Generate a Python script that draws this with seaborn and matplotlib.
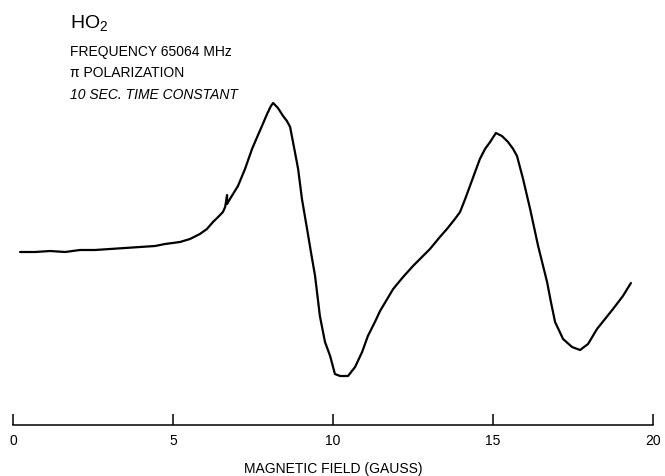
import matplotlib
matplotlib.use("Agg")
import matplotlib.pyplot as plt
import seaborn as sns
import pandas as pd

# Magnetic field (gauss) and signal (arbitrary units)
field = [0.22, 0.69, 1.16, 1.63, 2.09, 2.56, 3.03, 3.50, 3.97, 4.44,
         4.75, 5.22, 5.53, 5.84, 6.06, 6.25, 6.41, 6.56, 6.63, 6.69,
         6.69, 6.78, 7.03, 7.25, 7.47, 7.63, 7.78, 7.94, 8.06, 8.13,
         8.28, 8.44, 8.56, 8.66, 8.81, 8.91, 9.03, 9.19, 9.31, 9.44,
         9.59, 9.75, 9.91, 10.06, 10.22, 10.47, 10.69, 10.91, 11.09, 11.31,
         11.47, 11.88, 12.19, 12.50, 12.78, 13.03, 13.34, 13.56, 13.81, 13.97,
         14.13, 14.28, 14.44, 14.59, 14.75, 14.91, 15.09, 15.28, 15.47, 15.63,
         15.75, 15.94, 16.16, 16.41, 16.69, 16.81, 16.94, 17.19, 17.47, 17.72,
         17.97, 18.25, 18.50, 18.75, 19.06, 19.31]
signal = [17.3, 17.3, 17.4, 17.3, 17.5, 17.5, 17.6, 17.7, 17.8, 17.9,
          18.1, 18.3, 18.6, 19.1, 19.6, 20.3, 20.8, 21.3, 21.8, 23.0,
          22.1, 22.6, 23.9, 25.6, 27.6, 28.8, 29.9, 31.1, 31.9, 32.2,
          31.7, 30.9, 30.4, 29.8, 27.3, 25.6, 22.6, 19.6, 17.3, 14.9,
          10.9, 8.3, 6.9, 5.1, 4.9, 4.9, 5.8, 7.3, 8.9, 10.3,
          11.4, 13.6, 14.8, 15.9, 16.8, 17.6, 18.8, 19.6, 20.6, 21.3,
          22.6, 23.9, 25.3, 26.6, 27.6, 28.3, 29.2, 28.9, 28.3, 27.6,
          26.9, 24.6, 21.6, 17.9, 14.3, 12.3, 10.3, 8.6, 7.8, 7.5,
          8.1, 9.6, 10.6, 11.6, 12.9, 14.2]

xticks = [0, 5, 10, 15, 20]
xtick_labels = ["0", "5", "10", "15", "20"]
xlabel = "MAGNETIC FIELD (GAUSS)"
title_lines = ["FREQUENCY 65064 MHz", "π POLARIZATION", "10 SEC. TIME CONSTANT"]

sns.set_style("white")
FONT = ["Liberation Sans Narrow", "Liberation Sans", "DejaVu Sans"]
plt.rcParams["font.family"] = FONT

W, H = 665, 477
fig = plt.figure(figsize=(W / 100, H / 100), dpi=100)
ax = fig.add_axes([13 / W, (H - 426) / H, 640 / W, 426 / H])

df = pd.DataFrame({"field": field, "signal": signal})
sns.lineplot(data=df, x="field", y="signal", sort=False, estimator=None,
             color="black", linewidth=1.6, ax=ax)

ax.set_xlim(0, 20)
ax.set_ylim(0, 42.6)
ax.set_yticks([])
ax.set_ylabel("")
for s in ["left", "right", "top"]:
    ax.spines[s].set_visible(False)
ax.spines["bottom"].set_color("black")
ax.spines["bottom"].set_linewidth(1.1)
ax.set_xticks(xticks)
ax.set_xticklabels(xtick_labels)
ax.tick_params(axis="x", bottom=True, direction="in", length=8, width=1.1,
               color="black", pad=6, labelsize=10, labelcolor="black")
ax.set_xlabel(xlabel, fontsize=10, color="black", labelpad=10)
ax.patch.set_alpha(0)

# annotation block
fig.text(70 / W, 1 - 29 / H, "HO$_\\mathregular{2}$", fontsize=14, va="baseline", ha="left",
         color="black")
ys = [56, 77, 99]
for line, yb in zip(title_lines, ys):
    style = "italic" if line.startswith("10") else "normal"
    fig.text(70 / W, 1 - yb / H, line, fontsize=10, va="baseline", ha="left",
             color="black", style=style)

fig.savefig("out.png", dpi=100)
